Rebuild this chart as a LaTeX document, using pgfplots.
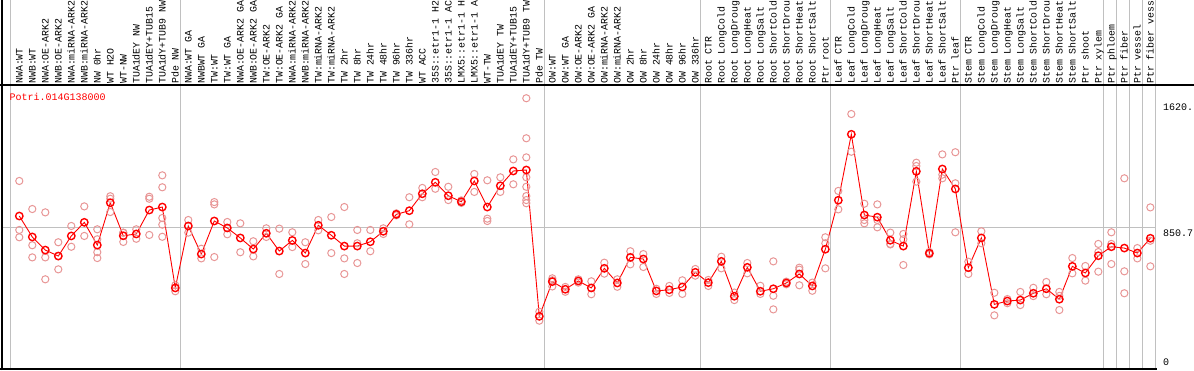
\documentclass[border=0pt]{standalone}
\usepackage{pgfplots}
\pgfplotsset{compat=1.18}
\usepackage{pgfplotstable}
\usepackage{fontspec}
\setmainfont{Liberation Mono}
\definecolor{rep}{RGB}{232,150,150}
\definecolor{gridg}{RGB}{192,192,192}

\pgfplotstableread{
x y
0 921
1 795
2 716
3 680
4 801
5 883
6 746
7 1001
8 802
9 813
10 957
11 975
12 488
13 861
14 692
15 891
16 849
17 789
18 722
19 817
20 710
21 774
22 698
23 865
24 805
25 740
26 740
27 766
28 829
29 931
30 953
31 1055
32 1124
33 1043
34 1007
35 1132
36 975
37 1103
38 1192
39 1198
40 317
41 526
42 480
43 530
44 488
45 606
46 518
47 672
48 662
49 470
50 477
51 494
52 582
53 520
54 648
55 438
56 612
57 468
58 483
59 518
60 572
61 500
62 721
63 1016
64 1413
65 927
66 914
67 775
68 740
69 1190
70 697
71 1204
72 1084
73 610
74 789
75 389
76 409
77 415
78 456
79 483
80 420
81 618
82 578
83 682
84 736
85 728
86 698
87 787
}\means

\pgfplotstableread{
x y
0 1132
0 837
0 793
1 963
1 745
1 672
2 943
2 672
2 540
3 763
3 600
3 680
4 861
4 736
5 979
5 801
6 841
6 781
6 703
6 668
7 1040
7 1025
7 945
8 820
8 765
8 821
9 841
9 784
10 1037
10 1025
10 807
11 1166
11 1094
11 909
11 869
11 796
12 504
12 468
13 897
13 821
14 724
14 666
15 1005
15 991
15 674
16 885
16 811
17 877
17 703
18 769
18 678
19 847
19 795
20 845
20 572
21 823
21 734
22 763
22 632
23 897
23 835
24 915
24 698
25 975
25 666
25 572
26 837
26 757
26 638
27 837
27 709
28 847
28 813
29 937
29 925
30 1034
30 871
31 1090
31 1034
32 1186
32 1085
33 1097
33 1017
34 1015
34 1000
35 1174
35 1066
36 1136
36 905
36 891
37 1154
37 1066
38 1262
38 1112
39 1630
39 1389
39 1274
39 1154
39 1097
39 1041
39 1017
39 998
40 345
40 291
41 546
41 534
41 497
42 494
42 465
43 540
43 520
44 528
44 450
45 640
45 574
46 540
46 495
47 709
47 630
48 692
48 614
49 483
49 452
50 500
50 458
51 534
51 452
52 602
52 562
53 536
53 500
54 676
54 606
55 460
55 415
56 638
56 576
57 501
57 452
58 648
58 441
58 359
59 526
59 510
60 610
60 598
60 504
61 520
61 471
62 793
62 757
62 606
63 1072
63 961
64 1535
64 1308
65 995
65 897
65 877
66 991
66 897
66 853
67 821
67 753
67 750
68 813
68 781
68 626
69 1242
69 1222
69 1128
70 705
70 690
71 1292
71 1170
71 1148
72 1305
72 1118
72 823
73 646
73 572
74 829
74 757
75 459
75 323
76 421
76 396
77 464
77 385
78 489
78 439
79 524
79 450
80 464
80 440
80 355
81 668
81 576
82 620
82 532
83 753
83 704
83 586
84 823
84 753
84 632
85 1148
85 588
85 456
86 728
86 666
87 973
87 772
87 618
}\reps

\begin{document}
\begin{tikzpicture}
% group separators
\foreach \xx in {10.7,180.3,544.3,700.3,830.3,960.3,1103.3,1116.3,1129.3,1142.3,1155.3}
  \draw[gridg, line width=1pt] (\xx pt,0pt) -- (\xx pt,370pt);
\begin{axis}[at={(2.5pt,1pt)}, anchor=south west, scale only axis,
  width=1152.8pt, height=283pt,
  xmin=-1.292, xmax=87.385, ymin=0, ymax=1703.7,
  axis line style={draw=none}, xtick=\empty, ytick={850.7}, yticklabels={},
  ymajorgrids, grid style={gridg, line width=1pt}, major tick length=0pt,
  clip=false]
\addplot[only marks, mark=o, mark size=3.6pt, color=rep, mark options={line width=1pt}] table[x=x,y=y]{\reps};
\addplot[red, line width=0.9pt, mark=o, mark size=3.7pt, mark options={line width=1.4pt}] table[x=x,y=y]{\means};
\end{axis}
% frame
\draw[black, line width=1.2pt] (0pt,285pt) -- (1194pt,285pt);
\draw[black, line width=1.2pt] (2pt,0pt) -- (2pt,370pt);
\draw[black, line width=1.2pt] (0pt,1pt) -- (1157pt,1pt);
% labels
\fontsize{9.9}{12}\selectfont
\foreach \lab [count=\i from 0] in {NWA:WT,NWB:WT,NWA:OE-ARK2,NWB:OE-ARK2,NWA:miRNA-ARK2,NWB:miRNA-ARK2,NW 0hr,WT H2O,WT-NW,TUA1dEY NW,TUA1dEY+TUB15,TUA1dY+TUB9 NW,Pde NW,NWA:WT GA,NWBWT GA,TW:WT,TW:WT GA,NWA:OE-ARK2 GA,NWB:OE-ARK2 GA,TW:OE-ARK2,TW:OE-ARK2 GA,NWA:miRNA-ARK2,NWB:miRNA-ARK2,TW:miRNA-ARK2,TW:miRNA-ARK2,TW 2hr,TW 8hr,TW 24hr,TW 48hr,TW 96hr,TW 336hr,WT ACC,35S::etr1-1 H2,35S::etr1-1 AC,LMX5::etr1-1 H,LMX5::etr1-1 A,WT-TW,TUA1dEY TW,TUA1dEY+TUB15,TUA1dY+TUB9 TW,Pde TW,OW:WT,OW:WT GA,OW:OE-ARK2,OW:OE-ARK2 GA,OW:miRNA-ARK2,OW:miRNA-ARK2,OW 2hr,OW 8hr,OW 24hr,OW 48hr,OW 96hr,OW 336hr,Root CTR,Root LongCold,Root LongDroug,Root LongHeat,Root LongSalt,Root ShortCold,Root ShortDrou,Root ShortHeat,Root ShortSalt,Ptr root,Leaf CTR,Leaf LongCold,Leaf LongDroug,Leaf LongHeat,Leaf LongSalt,Leaf ShortCold,Leaf ShortDrou,Leaf ShortHeat,Leaf ShortSalt,Ptr leaf,Stem CTR,Stem LongCold,Stem LongDroug,Stem LongHeat,Stem LongSalt,Stem ShortCold,Stem ShortDrou,Stem ShortHeat,Stem ShortSalt,Ptr shoot,Ptr xylem,Ptr phloem,Ptr fiber,Ptr vessel,Ptr fiber vess}
  \node[rotate=90, anchor=base west, inner sep=0pt] at ({22.7pt+13pt*\i},286pt) {\lab};
\fontsize{10}{12}\selectfont
\node[anchor=base west, inner sep=0pt, text=red] at (9.3pt,269.7pt) {Potri.014G138000};
\node[anchor=base west, inner sep=0pt] at (1163pt,259pt) {1620.};
\node[anchor=base west, inner sep=0pt] at (1163pt,134pt) {850.7};
\node[anchor=base west, inner sep=0pt] at (1163pt,5pt) {0};
\pgfresetboundingbox
\path[use as bounding box] (0pt,0pt) rectangle (1194pt,370pt);
\end{tikzpicture}
\end{document}
